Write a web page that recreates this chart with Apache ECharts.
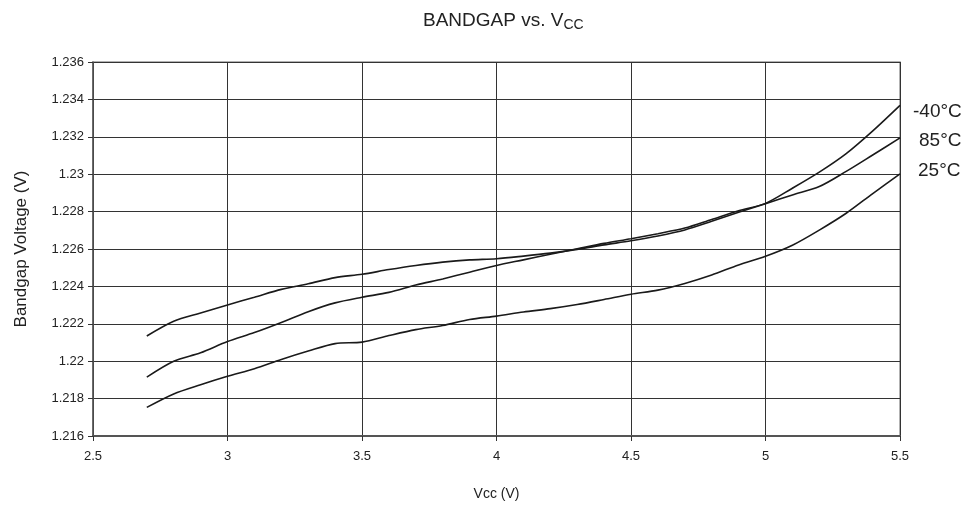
<!DOCTYPE html>
<html>
<head>
<meta charset="utf-8">
<script src="https://cdn.jsdelivr.net/npm/echarts@6/dist/echarts.min.js"></script>
<style>
    html, body { margin: 0; padding: 0; background: #fff; }
    #chart { width: 979px; height: 506px; }
</style>
</head>
<body>
<div id="chart"></div>
<script>
// Vcc sweep (V)
const vcc = [2.7, 2.8, 2.9, 3.0, 3.1, 3.2, 3.3, 3.4, 3.5, 3.6, 3.7, 3.8, 3.9, 4.0, 4.1,
    4.2, 4.3, 4.4, 4.5, 4.6, 4.7, 4.8, 4.9, 5.0, 5.1, 5.2, 5.3, 5.4, 5.5]

// bandgap voltage (V)
const vMinus40 = [1.21915, 1.2200, 1.22045, 1.22105, 1.22153, 1.22207, 1.22265, 1.22312, 1.22342,
    1.22368, 1.22407, 1.2244, 1.22476, 1.22512, 1.22542, 1.22572, 1.22601, 1.2263, 1.22655,
    1.22682, 1.22712, 1.22758, 1.22804, 1.22844, 1.22925, 1.23011, 1.2311, 1.23233, 1.23368]
const v85 = [1.22135, 1.22214, 1.22258, 1.22301, 1.22342, 1.22384, 1.22414, 1.22447, 1.22465,
    1.2249, 1.22512, 1.2253, 1.22542, 1.22548, 1.22562, 1.22578, 1.22598, 1.22622, 1.22644,
    1.2267, 1.22702, 1.22748, 1.22796, 1.22842, 1.22889, 1.22934, 1.23015, 1.23104, 1.23194]
const v25 = [1.21753, 1.21825, 1.21874, 1.21919, 1.2196, 1.22009, 1.22054, 1.22094, 1.22102,
    1.22137, 1.22169, 1.22191, 1.22223, 1.22241, 1.22263, 1.22281, 1.22303, 1.2233, 1.22358,
    1.2238, 1.22416, 1.22461, 1.22515, 1.22561, 1.2262, 1.22701, 1.22791, 1.22898, 1.23002]

const seriesNames = ['-40°C', '85°C', '25°C']
// labels are right-aligned in the reference, so the shorter ones sit further out
const labelDistance = [13, 19, 18]
const labelOffsetY = [6, 3, -3]

const font = 'Liberation Sans, Arial, sans-serif'
const chart = echarts.init(document.getElementById('chart'))

function pairs(ys) {
    return vcc.map((x, i) => [x, ys[i]])
}

const lines = [vMinus40, v85, v25].map((ys, i) => ({
    name: seriesNames[i],
    type: 'line',
    data: pairs(ys),
    showSymbol: false,
    smooth: 0.3,
    animation: false,
    lineStyle: { color: '#1a1a1a', width: 1.6 },
    endLabel: {
        show: true,
        formatter: seriesNames[i],
        color: '#222',
        fontFamily: font,
        fontSize: 19,
        distance: labelDistance[i],
        offset: [0, labelOffsetY[i]]
    }
}))

chart.setOption({
    animation: false,
    title: {
        text: '{m|BANDGAP vs. V}{s|CC}',
        left: 418,
        top: 5,
        textStyle: {
            fontWeight: 'normal',
            rich: {
                m: { fontFamily: font, fontSize: 19, color: '#222', fontWeight: 'normal' },
                s: { fontFamily: font, fontSize: 14, color: '#222', fontWeight: 'normal', padding: [8, 0, 0, 0] }
            }
        }
    },
    grid: {
        left: 93, right: 79, top: 62, bottom: 70,
        show: true,
        borderColor: '#999',
        borderWidth: 1.5
    },
    xAxis: {
        type: 'value',
        min: 2.5, max: 5.5, interval: 0.5,
        name: 'Vcc (V)',
        nameLocation: 'middle',
        nameGap: 51,
        nameTextStyle: { fontFamily: font, fontSize: 14, color: '#222' },
        axisLine: { lineStyle: { color: '#555', width: 2 } },
        axisTick: { show: true, length: 5, lineStyle: { color: '#333' } },
        axisLabel: { fontFamily: font, fontSize: 13, color: '#222', margin: 14 },
        splitLine: { lineStyle: { color: '#333', width: 1 } }
    },
    yAxis: {
        type: 'value',
        min: 1.216, max: 1.236, interval: 0.002,
        name: 'Bandgap Voltage (V)',
        nameLocation: 'middle',
        nameGap: 63,
        nameTextStyle: { fontFamily: font, fontSize: 17, color: '#222' },
        axisLine: { show: true, lineStyle: { color: '#555', width: 1.5 } },
        axisTick: { show: true, length: 5, lineStyle: { color: '#333' } },
        axisLabel: {
            fontFamily: font, fontSize: 13, color: '#222', margin: 9,
            formatter: v => String(+v.toFixed(3))
        },
        splitLine: { lineStyle: { color: '#333', width: 1 } }
    },
    series: lines
})
</script>
</body>
</html>
